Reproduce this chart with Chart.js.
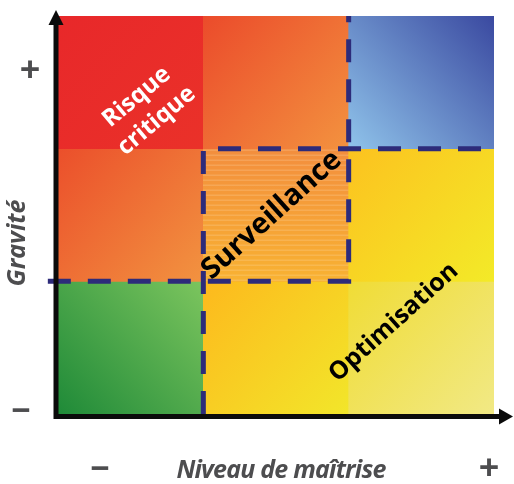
<!DOCTYPE html>
<html lang="fr">
<head>
<meta charset="utf-8">
<title>Matrice gravité / niveau de maîtrise</title>
<script src="https://cdn.jsdelivr.net/npm/chart.js@4/dist/chart.umd.min.js"></script>
<style>
  html, body { margin: 0; padding: 0; background: #ffffff; }
  #wrap { width: 514px; height: 484px; }
</style>
</head>
<body>
<div id="wrap"><canvas id="matrice" width="514" height="484"></canvas></div>
<script>
// Columns: level of control (niveau de maîtrise), left = low, right = high
const maitriseLevels = ['faible', 'moyen', 'élevé'];
// Rows: severity (gravité), bottom = low, top = high
const graviteLevels = ['faible', 'moyenne', 'forte'];
// Each cell spans one unit on both axes
const cellSpan = [1, 1, 1];

// Zone names and where they sit, in axis units
const zoneNames = [['Risque', 'critique'], ['Surveillance'], ['Optimisation']];
const zoneX = [0.61, 1.47, 2.31];
const zoneY = [2.30, 1.50, 0.69];

// Dashed zone borders, in axis units
const borderA = [{ x: -0.07, y: 1 }, { x: 2, y: 1 }, { x: 2, y: 3 }];
const borderB = [{ x: 1, y: 0 }, { x: 1, y: 2 }, { x: 3.02, y: 2 }];

// Axis ends
const axisEnds = ['−', '+'];

// ---- styles -------------------------------------------------------------
// palette[row][col] = [from, to, direction]
// direction: 'tlbr' top-left -> bottom-right, 'bltr' bottom-left -> top-right, 'tb' top -> bottom
const palette = [
  [ ['#1f8a38', '#7cc55e', 'bltr'], ['#fdb91d', '#f2e62a', 'tlbr'], ['#f0dc36', '#f1e985', 'tlbr'] ],
  [ ['#eb4f2b', '#f29340', 'tlbr'], ['#f38e3e', '#f8b232', 'tb'],   ['#fcc21f', '#f3ea28', 'tlbr'] ],
  [ ['#e8282a', '#ea3129', 'tlbr'], ['#eb4b2b', '#f3923f', 'tlbr'], ['#8fc3ea', '#3a49a0', 'bltr'] ]
];
const stripedCell = { row: 1, col: 1 };
const borderColor = '#2d2b7a';
const axisColor = '#0b0b0b';
const labelGrey = '#4d4d4f';
const FONT = '"Open Sans", "Noto Sans", sans-serif';

// cells built from the level arrays
const cells = [];
graviteLevels.forEach((g, r) => {
  maitriseLevels.forEach((m, c) => {
    const lo = cellSpan.slice(0, r).reduce((a, b) => a + b, 0);
    cells.push({ x: c + 0.5, y: [lo, lo + cellSpan[r]], row: r, col: c });
  });
});

function cellBounds(chart, raw) {
  const xs = chart.scales.x, ys = chart.scales.y;
  return {
    left: xs.getPixelForValue(raw.x - 0.5),
    right: xs.getPixelForValue(raw.x + 0.5),
    top: ys.getPixelForValue(raw.y[1]),
    bottom: ys.getPixelForValue(raw.y[0])
  };
}

function cellFill(ctx) {
  const chart = ctx.chart;
  if (ctx.type !== 'data' || !chart.chartArea || !ctx.raw) return '#cccccc';
  const raw = ctx.raw;
  const b = cellBounds(chart, raw);
  const [from, to, dir] = palette[raw.row][raw.col];
  const c2d = chart.ctx;
  let g;
  if (dir === 'tlbr') g = c2d.createLinearGradient(b.left, b.top, b.right, b.bottom);
  else if (dir === 'bltr') g = c2d.createLinearGradient(b.left, b.bottom, b.right, b.top);
  else g = c2d.createLinearGradient(0, b.top, 0, b.bottom);
  g.addColorStop(0, from);
  g.addColorStop(1, to);
  if (raw.row !== stripedCell.row || raw.col !== stripedCell.col) return g;

  // striped cell: gradient with faint horizontal lines, as a positioned pattern
  const w = Math.ceil(b.right - b.left) + 2, h = Math.ceil(b.bottom - b.top) + 2;
  const off = document.createElement('canvas');
  off.width = w; off.height = h;
  const o = off.getContext('2d');
  const lg = o.createLinearGradient(0, 0, 0, h);
  lg.addColorStop(0, from);
  lg.addColorStop(1, to);
  o.fillStyle = lg;
  o.fillRect(0, 0, w, h);
  o.fillStyle = 'rgba(255,235,200,0.28)';
  for (let yy = 2; yy < h; yy += 5) o.fillRect(0, yy, w, 1);
  const p = c2d.createPattern(off, 'no-repeat');
  p.setTransform(new DOMMatrix().translate(b.left - 1, b.top - 1));
  return p;
}

const decorations = {
  id: 'decorations',
  afterDatasetsDraw(chart) {
    const c = chart.ctx;
    const xs = chart.scales.x, ys = chart.scales.y;

    // zone names, rotated along the diagonal
    const specs = [
      { color: '#ffffff', size: 24, angle: -40, lh: 31 },
      { color: '#000000', size: 29, angle: -42, lh: 30 },
      { color: '#000000', size: 25, angle: -42, lh: 30 }
    ];
    zoneNames.forEach((lines, i) => {
      const s = specs[i];
      c.save();
      c.translate(xs.getPixelForValue(zoneX[i]), ys.getPixelForValue(zoneY[i]));
      c.rotate(s.angle * Math.PI / 180);
      c.font = `bold ${s.size}px ${FONT}`;
      c.fillStyle = s.color;
      c.textAlign = 'center';
      c.textBaseline = 'middle';
      const n = lines.length;
      lines.forEach((t, k) => {
        c.fillText(t, 0, (k - (n - 1) / 2) * s.lh);
      });
      c.restore();
    });
  },
  afterDraw(chart) {
    const c = chart.ctx;
    const area = chart.chartArea;
    const ax = area.left - 2, ay = area.bottom + 2.5;

    // axes with arrow heads
    c.save();
    c.strokeStyle = axisColor;
    c.fillStyle = axisColor;
    c.lineWidth = 5;
    c.lineCap = 'butt';
    c.beginPath();
    c.moveTo(ax, ay + 2.5);
    c.lineTo(ax, area.top + 6);
    c.moveTo(ax - 2.5, ay);
    c.lineTo(area.right + 8, ay);
    c.stroke();
    c.beginPath();
    c.moveTo(ax, area.top - 6);
    c.lineTo(ax - 7.5, area.top + 9);
    c.lineTo(ax + 7.5, area.top + 9);
    c.closePath();
    c.fill();
    c.beginPath();
    c.moveTo(area.right + 19, ay);
    c.lineTo(area.right + 5, ay - 8);
    c.lineTo(area.right + 5, ay + 8);
    c.closePath();
    c.fill();
    c.restore();

    // axis end marks and titles
    c.save();
    c.fillStyle = labelGrey;
    c.textAlign = 'center';
    c.textBaseline = 'middle';
    c.font = `bold 36px ${FONT}`;
    c.fillText(axisEnds[1], 30, area.top + 56);
    c.fillText(axisEnds[1], area.right - 5, 470);
    c.font = `bold 34px ${FONT}`;
    c.fillText(axisEnds[0], 21, area.bottom - 2);
    c.fillText(axisEnds[0], 100, 470);

    c.font = `italic bold 25px ${FONT}`;
    if ('letterSpacing' in c) c.letterSpacing = '-0.8px';
    c.fillText('Niveau de maîtrise', 281, 471);
    c.translate(18, 243);
    c.rotate(-Math.PI / 2);
    if ('letterSpacing' in c) c.letterSpacing = '0px';
    c.font = `italic bold 25px ${FONT}`;
    c.fillText('Gravité', 0, 0);
    c.restore();
  }
};

const chart = new Chart(document.getElementById('matrice'), {
  type: 'bar',
  data: {
    datasets: [
      {
        type: 'line',
        label: 'zone A',
        data: borderA,
        borderColor: borderColor,
        borderWidth: 5,
        borderDash: [23, 17],
        borderCapStyle: 'butt',
        borderJoinStyle: 'miter',
        pointRadius: 0,
        fill: false,
        tension: 0,
        clip: false,
        order: 1
      },
      {
        type: 'line',
        label: 'zone B',
        data: borderB,
        borderColor: borderColor,
        borderWidth: 5,
        borderDash: [23, 17],
        borderCapStyle: 'butt',
        borderJoinStyle: 'miter',
        pointRadius: 0,
        fill: false,
        tension: 0,
        clip: false,
        order: 1
      },
      {
        type: 'bar',
        label: 'cellules',
        data: cells,
        backgroundColor: cellFill,
        borderWidth: 0,
        barPercentage: 1,
        categoryPercentage: 1,
        grouped: false,
        order: 2
      }
    ]
  },
  options: {
    responsive: false,
    animation: false,
    devicePixelRatio: 1,
    layout: { padding: { left: 58, top: 16, right: 20, bottom: 70 } },
    plugins: { legend: { display: false }, tooltip: { enabled: false } },
    scales: {
      x: { type: 'linear', min: 0, max: 3, offset: false, display: false, ticks: { stepSize: 1 } },
      y: { type: 'linear', min: 0, max: 3, display: false, ticks: { stepSize: 1 } }
    }
  },
  plugins: [decorations]
});
</script>
</body>
</html>
